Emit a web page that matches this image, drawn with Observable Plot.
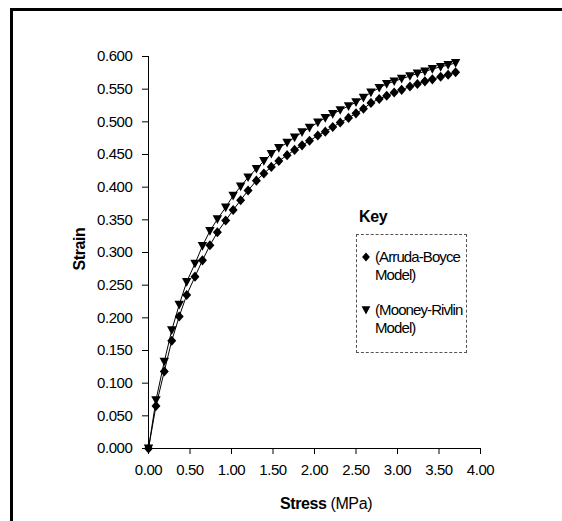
<!DOCTYPE html>
<html>
<head>
<meta charset="utf-8">
<script src="https://cdn.jsdelivr.net/npm/d3@7"></script>
<script src="https://cdn.jsdelivr.net/npm/@observablehq/plot@0.6"></script>
<style>
  html, body { margin: 0; padding: 0; background: #fff; }
  #wrap { position: relative; width: 562px; height: 521px; overflow: hidden; background: #fff;
          font-family: "Liberation Sans", Arial, sans-serif; color: #000; letter-spacing: -0.4px; }
  #chart { position: absolute; left: 0; top: 0; }
  #frame { position: absolute; left: 10px; top: 8px; right: -10px; bottom: -10px;
           border-left: 3px solid #000; border-top: 3px solid #000; pointer-events: none; }
  .abs { position: absolute; white-space: nowrap; }
  #ytitle { left: 80px; top: 249px; font-weight: bold; font-size: 16px;
            transform: translate(-50%, -50%) rotate(-90deg); }
  #xtitle { left: 326px; top: 504px; font-size: 16px; transform: translate(-50%, -50%); }
  #keytitle { left: 359px; top: 217px; font-weight: bold; font-size: 16px; transform: translateY(-50%); }
  #keybox { left: 356px; top: 234px; width: 111px; height: 119px; border: 1px dashed #555; box-sizing: border-box; }
  .ktext { font-size: 15px; line-height: 18px; letter-spacing: -0.9px; }
  .ksym { width: 10px; height: 10px; }
</style>
</head>
<body>
<div id="wrap">
  <div id="chart"></div>
  <div id="frame"></div>
  <div class="abs" id="ytitle">Strain</div>
  <div class="abs" id="xtitle"><b>Stress</b> (MPa)</div>
  <div class="abs" id="keytitle">Key</div>
  <div class="abs" id="keybox"></div>
  <svg class="abs ksym" style="left:361px;top:252px" viewBox="-5 -5 10 10"><path d="M0,-4.6L3.9,0L0,4.6L-3.9,0Z" fill="#000"/></svg>
  <div class="abs ktext" style="left:375px;top:248px">(Arruda-Boyce<br>Model)</div>
  <svg class="abs ksym" style="left:361px;top:305px" viewBox="-5 -5 10 10"><path d="M-4.4,-3.8L4.4,-3.8L0,4.4Z" fill="#000"/></svg>
  <div class="abs ktext" style="left:375px;top:301px">(Mooney-Rivlin<br>Model)</div>
</div>
<script>
const stress = [0, 0.09, 0.19, 0.28, 0.37, 0.46, 0.56, 0.65, 0.74, 0.83,
                0.93, 1.02, 1.11, 1.20, 1.30, 1.39, 1.48, 1.57, 1.67, 1.76,
                1.85, 1.94, 2.04, 2.13, 2.22, 2.31, 2.41, 2.50, 2.59, 2.68,
                2.78, 2.87, 2.96, 3.05, 3.15, 3.24, 3.33, 3.42, 3.52, 3.61, 3.70];
const arrudaBoyce = [0, 0.065, 0.118, 0.165, 0.202, 0.235, 0.263, 0.288, 0.311, 0.331,
                     0.349, 0.365, 0.380, 0.395, 0.410, 0.421, 0.431, 0.440, 0.449, 0.457,
                     0.464, 0.471, 0.479, 0.485, 0.492, 0.499, 0.506, 0.513, 0.520, 0.529,
                     0.535, 0.540, 0.545, 0.549, 0.554, 0.558, 0.562, 0.565, 0.569, 0.572, 0.576];
const mooneyRivlin = [0, 0.074, 0.133, 0.181, 0.220, 0.255, 0.283, 0.310, 0.333, 0.351,
                      0.369, 0.387, 0.401, 0.415, 0.428, 0.440, 0.451, 0.460, 0.468, 0.476,
                      0.484, 0.491, 0.499, 0.506, 0.512, 0.518, 0.524, 0.530, 0.537, 0.545,
                      0.552, 0.558, 0.562, 0.566, 0.570, 0.574, 0.577, 0.581, 0.584, 0.587, 0.590];
const xTicks = [0, 0.5, 1, 1.5, 2, 2.5, 3, 3.5, 4];
const yTicks = [0, 0.05, 0.1, 0.15, 0.2, 0.25, 0.3, 0.35, 0.4, 0.45, 0.5, 0.55, 0.6];

const ab = stress.map((s, i) => ({stress: s, strain: arrudaBoyce[i]}));
const mr = stress.map((s, i) => ({stress: s, strain: mooneyRivlin[i]}));

const diamond = {
  draw(ctx, size) {
    const r = Math.sqrt(size);
    ctx.moveTo(0, -r * 0.62);
    ctx.lineTo(r * 0.55, 0);
    ctx.lineTo(0, r * 0.62);
    ctx.lineTo(-r * 0.55, 0);
    ctx.closePath();
  }
};
const triangleDown = {
  draw(ctx, size) {
    const r = Math.sqrt(size);
    ctx.moveTo(-r * 0.58, -r * 0.48);
    ctx.lineTo(r * 0.58, -r * 0.48);
    ctx.lineTo(0, r * 0.58);
    ctx.closePath();
  }
};

const chart = Plot.plot({
  width: 562,
  height: 521,
  marginLeft: 148,
  marginRight: 82,
  marginTop: 56,
  marginBottom: 73,
  style: {
    fontFamily: '"Liberation Sans", Arial, sans-serif',
    fontSize: "15px",
    letterSpacing: "-0.4px",
    color: "#000",
    background: "none",
    overflow: "visible"
  },
  x: {domain: [0, 4]},
  y: {domain: [0, 0.6]},
  marks: [
    Plot.axisX(xTicks, {tickFormat: d => d.toFixed(2), tickSize: 6, tickPadding: 10, label: null, stroke: "#000"}),
    Plot.axisY(yTicks, {tickFormat: d => d.toFixed(3), tickSize: 6, tickPadding: 10, label: null, stroke: "#000"}),
    Plot.ruleX([0], {stroke: "#000", strokeWidth: 1}),
    Plot.ruleY([0], {stroke: "#000", strokeWidth: 1}),
    Plot.line(ab, {x: "stress", y: "strain", stroke: "#000", strokeWidth: 1}),
    Plot.line(mr, {x: "stress", y: "strain", stroke: "#000", strokeWidth: 1}),
    Plot.dot(ab, {x: "stress", y: "strain", symbol: diamond, r: 4.6, fill: "#000", stroke: "none"}),
    Plot.dot(mr, {x: "stress", y: "strain", symbol: triangleDown, r: 4.6, fill: "#000", stroke: "none"})
  ]
});
document.getElementById("chart").appendChild(chart);
</script>
</body>
</html>
